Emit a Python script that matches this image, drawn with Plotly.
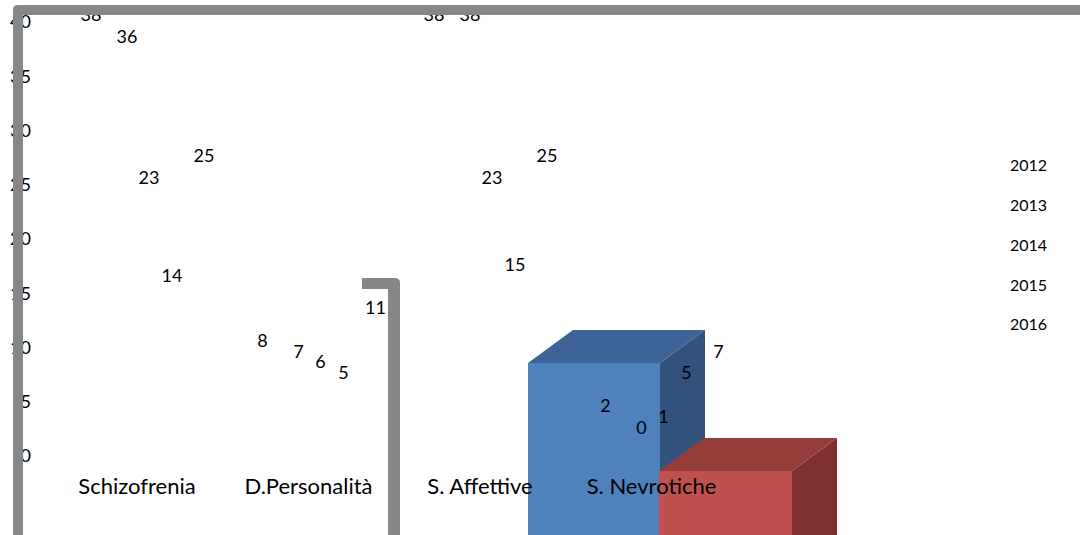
import plotly.graph_objects as go

# ---- data ----
categories = ["Schizofrenia", "D.Personalità", "S. Affettive", "S. Nevrotiche"]
years = ["2012", "2013", "2014", "2015", "2016"]
v2012 = [38, 8, 38, 2]
v2013 = [36, 7, 38, 0]
v2014 = [23, 6, 23, 1]
v2015 = [14, 5, 15, 5]
v2016 = [25, 11, 25, 7]
series = [v2012, v2013, v2014, v2015, v2016]
y_ticks = [0, 5, 10, 15, 20, 25, 30, 35, 40]

# ---- layout / style ----
W, H = 1080, 535
L, R, T, B = 36, 0, 0, 79
CAT_PX = 171.5                     # pixel spacing between categories
X0 = -(137 - L) / CAT_PX           # x-range start so first category sits at px 137
X1 = X0 + (W - L - R) / CAT_PX
Y_UNIT = (456 - 22) / 40.0         # pixels per unit (40 sits 22px from the top)
Y_TOP = (H - B - T) / Y_UNIT
LABEL_LIFT = 27                    # data labels sit above their value
label_dx = [-46, -10, 12, 35, 67]  # per-series label offsets (px)
FONT = "Lato"
GRAY = "#878787"


def px(x):
    return (x - L) / (W - L - R)


def py(y):
    return (H - B - y) / (H - T - B)


def path(pts):
    return "M " + " L ".join(f"{px(x):.5f},{py(y):.5f}" for x, y in pts) + " Z"


fig = go.Figure()

# legend-carrying (transparent) bars
for yr, vals in zip(years, series):
    fig.add_trace(go.Bar(
        x=categories, y=vals, name=yr, legendgroup=yr,
        marker=dict(color="rgba(0,0,0,0)", line=dict(width=0)),
        hoverinfo="skip",
    ))

# data labels
for s, (yr, vals) in enumerate(zip(years, series)):
    fig.add_trace(go.Scatter(
        x=[i + label_dx[s] / CAT_PX for i in range(len(categories))],
        y=vals, mode="text", text=[str(v) for v in vals],
        textposition="middle center", cliponaxis=False,
        textfont=dict(family=FONT, size=18, color="#000000"),
        xaxis="x2", yaxis="y2", showlegend=False, hoverinfo="skip",
    ))

shapes = []


def box(x0, x1, ytop, dx, dy, front, top, side):
    bottom = H + 5
    return [
        dict(type="path", path=path([(x1, ytop), (x1 + dx, ytop + dy), (x1 + dx, bottom), (x1, bottom)]),
             xref="paper", yref="paper", fillcolor=side, line=dict(width=0), layer="below"),
        dict(type="path", path=path([(x0, ytop), (x0 + dx, ytop + dy), (x1 + dx, ytop + dy), (x1, ytop)]),
             xref="paper", yref="paper", fillcolor=top, line=dict(width=0), layer="below"),
        dict(type="path", path=path([(x0, ytop), (x1, ytop), (x1, bottom), (x0, bottom)]),
             xref="paper", yref="paper", fillcolor=front, line=dict(width=0), layer="below"),
    ]


shapes += box(528, 660, 363, 45, -33, "#4F81BD", "#3E6497", "#32517B")
shapes += box(659, 792, 471, 45, -33, "#C0504D", "#943D3B", "#7E302F")

# gray frame (wall edges)
frame = (f"M {px(13):.5f},{py(540):.5f} L {px(13):.5f},{py(10):.5f} "
         f"Q {px(13):.5f},{py(5):.5f} {px(18):.5f},{py(5):.5f} "
         f"L {px(1085):.5f},{py(5):.5f} L {px(1085):.5f},{py(15):.5f} "
         f"L {px(23):.5f},{py(15):.5f} L {px(23):.5f},{py(540):.5f} Z")
shapes.append(dict(type="path", path=frame, xref="paper", yref="paper",
                   fillcolor=GRAY, line=dict(width=0), layer="above"))
bracket = (f"M {px(362):.5f},{py(278):.5f} L {px(395):.5f},{py(278):.5f} "
           f"Q {px(400):.5f},{py(278):.5f} {px(400):.5f},{py(283):.5f} "
           f"L {px(400):.5f},{py(540):.5f} L {px(388):.5f},{py(540):.5f} "
           f"L {px(388):.5f},{py(289):.5f} L {px(362):.5f},{py(289):.5f} Z")
shapes.append(dict(type="path", path=bracket, xref="paper", yref="paper",
                   fillcolor=GRAY, line=dict(width=0), layer="above"))

fig.update_layout(
    width=W, height=H,
    margin=dict(l=L, r=R, t=T, b=B, autoexpand=False),
    paper_bgcolor="white", plot_bgcolor="white",
    barmode="group",
    font=dict(family=FONT, color="#000000"),
    xaxis=dict(type="category", range=[X0, X1], showgrid=False, showline=False,
               zeroline=False, ticks="", ticklabelstandoff=15,
               tickfont=dict(family=FONT, size=22, color="#000000")),
    yaxis=dict(range=[0, Y_TOP], tickvals=y_ticks, showgrid=False, showline=False,
               zeroline=False, ticks="", ticklabelstandoff=4,
               tickfont=dict(family=FONT, size=18, color="#000000")),
    xaxis2=dict(overlaying="x", range=[X0, X1], visible=False),
    yaxis2=dict(overlaying="y", range=[-LABEL_LIFT / Y_UNIT, Y_TOP - LABEL_LIFT / Y_UNIT], visible=False),
    showlegend=True,
    legend=dict(xref="container", yref="container", x=970 / W, y=1 - 148 / H,
                xanchor="left", yanchor="top", bgcolor="rgba(0,0,0,0)",
                font=dict(family=FONT, size=16, color="#000000"),
                tracegroupgap=16, traceorder="grouped"),
    shapes=shapes,
)

fig.write_html("out.html")
